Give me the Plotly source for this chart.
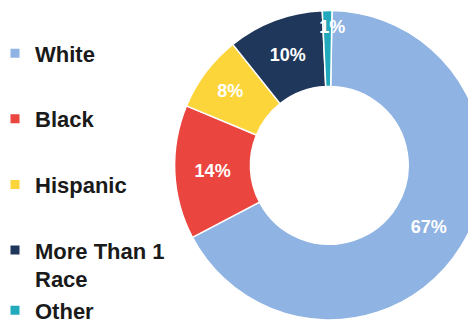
import plotly.graph_objects as go

categories = ["White", "Black", "Hispanic", "More Than 1 Race", "Other"]
legend_labels = ["White", "Black", "Hispanic", "More Than 1<br>Race", "Other"]
values = [67, 14, 8, 10, 1]
colors = ["#8FB3E2", "#EA453E", "#FCD53A", "#1F375A", "#22AABC"]
legend_groups = ["g1", "g2", "g3", "g4", "g4"]

pct = "%{percent:.0%}"
templates = [pct, pct, pct, pct, "&nbsp;<br>&nbsp;&nbsp;" + pct]

fig = go.Figure()

fig.add_trace(go.Pie(
    labels=categories,
    values=values,
    sort=False,
    direction="clockwise",
    rotation=1,
    hole=0.51,
    marker=dict(colors=colors, line=dict(color="white", width=1.5)),
    texttemplate=templates,
    textposition="inside",
    insidetextorientation="horizontal",
    textfont=dict(family="Liberation Sans, Arial, sans-serif", size=18, color="white", weight="bold"),
    domain=dict(x=[0.35, 1.0], y=[0.038, 0.994]),
    showlegend=False,
))

for name, color, grp in zip(legend_labels, colors, legend_groups):
    fig.add_trace(go.Scatter(
        x=[None], y=[None], mode="markers", name=name, legendgroup=grp,
        marker=dict(symbol="square", size=9, color=color),
        hoverinfo="skip",
    ))

fig.update_layout(
    width=476, height=325,
    margin=dict(l=0, r=0, t=0, b=0),
    paper_bgcolor="white", plot_bgcolor="white",
    xaxis=dict(visible=False), yaxis=dict(visible=False),
    uniformtext=dict(minsize=18, mode="show"),
    legend=dict(
        x=0, y=0.925, xanchor="left", yanchor="top", indentation=-13,
        font=dict(family="Liberation Sans, Arial, sans-serif", size=22, color="#1A1A1A", weight="bold"),
        tracegroupgap=34, valign="top", itemclick=False, itemdoubleclick=False,
        bgcolor="rgba(0,0,0,0)",
    ),
)

fig.write_html("out.html")
